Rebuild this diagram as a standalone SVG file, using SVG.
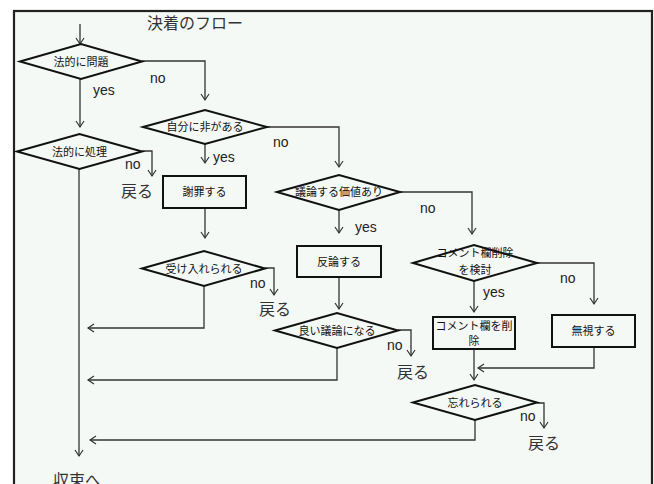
<svg xmlns="http://www.w3.org/2000/svg" width="654" height="484" viewBox="0 0 654 484">
<defs>
<marker id="arr" viewBox="0 0 10 10" refX="7" refY="5" markerWidth="10" markerHeight="10" markerUnits="userSpaceOnUse" orient="auto">
<path d="M1,1 L7,5 L1,9" fill="none" stroke="#333" stroke-width="1.2"/>
</marker>
<style>
.bg{fill:#f4f9f6;stroke:#222;stroke-width:2.2}
.dia{fill:#f4f9f6;stroke:#111;stroke-width:2}
.box{fill:#f4f9f6;stroke:#111;stroke-width:2}
.c{fill:none;stroke:#333;stroke-width:1.3;marker-end:url(#arr)}
.l{font-family:"Noto Sans CJK JP","Liberation Sans",sans-serif;font-size:11px;fill:#111;text-anchor:middle}
.yn{font-family:"Liberation Sans","DejaVu Sans",sans-serif;font-size:14px;fill:#222}
.ret{font-family:"Noto Sans CJK JP",sans-serif;font-size:16px;fill:#333}
.t{font-family:"Noto Sans CJK JP",sans-serif;font-size:16px;fill:#333}
</style>
</defs>
<rect x="0" y="0" width="654" height="484" fill="#ffffff"/>
<rect class="bg" x="14" y="11" width="638" height="490"/>
<text class="t" x="147" y="29">決着のフロー</text>

<g id="connectors">
<path class="c" d="M80,24 V44"/>
<path class="c" d="M142,61 H205 V100"/>
<path class="c" d="M80,79 V127"/>
<path class="c" d="M267,127 H339 V167"/>
<path class="c" d="M205,144 V163"/>
<path class="c" d="M142,151 H152 V176"/>
<path class="c" d="M79,169 V456"/>
<path class="c" d="M205,208 V238"/>
<path class="c" d="M265,268 H274 V295"/>
<path class="c" d="M204,286 V328 H88"/>
<path class="c" d="M339,210 V233"/>
<path class="c" d="M339,277 V309"/>
<path class="c" d="M398,330 H411 V356"/>
<path class="c" d="M337,348 V380 H88"/>
<path class="c" d="M400,192 H472 V234"/>
<path class="c" d="M537,263 H594 V304"/>
<path class="c" d="M474,281 V312"/>
<path class="c" d="M474,349 V380"/>
<path class="c" d="M594,347 V368 H478"/>
<path class="c" d="M537,403 H544 V428"/>
<path class="c" d="M475,420 V440 H90"/>
</g>

<g id="d-hoteki-mondai">
<polygon class="dia" points="20,61.5 81,44 142,61.5 81,79"/>
<text class="l" x="81" y="65.5">法的に問題</text>
</g>
<text class="yn" x="150" y="83">no</text>
<text class="yn" x="93" y="95">yes</text>

<g id="d-jibun">
<polygon class="dia" points="143,127 205,110 267,127 205,144"/>
<text class="l" x="205" y="131">自分に非がある</text>
</g>
<text class="yn" x="273" y="147">no</text>
<text class="yn" x="213" y="162">yes</text>

<g id="d-hoteki-shori">
<polygon class="dia" points="17,151.5 79.5,134 142,151.5 79.5,169"/>
<text class="l" x="79.5" y="155.5">法的に処理</text>
</g>
<text class="yn" x="125" y="169">no</text>
<text class="ret" x="121" y="197">戻る</text>

<g id="b-shazai">
<rect class="box" x="163" y="176" width="83" height="32"/>
<text class="l" x="204.5" y="196">謝罪する</text>
</g>

<g id="d-ukeire">
<polygon class="dia" points="142,268.5 204,251 265,268.5 204,286"/>
<text class="l" x="204" y="272.5">受け入れられる</text>
</g>
<text class="yn" x="250" y="288">no</text>
<text class="ret" x="259" y="315">戻る</text>

<g id="d-giron-kachi">
<polygon class="dia" points="277,192 339,175 400,192 339,210"/>
<text class="l" x="339" y="196">議論する価値あり</text>
</g>
<text class="yn" x="355" y="232">yes</text>
<text class="yn" x="420" y="213">no</text>

<g id="b-hanron">
<rect class="box" x="297" y="246" width="84" height="31"/>
<text class="l" x="339" y="265.5">反論する</text>
</g>

<g id="d-yoi-giron">
<polygon class="dia" points="275,330.5 337,313 398,330.5 337,348"/>
<text class="l" x="337" y="334.5">良い議論になる</text>
</g>
<text class="yn" x="387" y="350">no</text>
<text class="ret" x="397" y="378">戻る</text>

<g id="d-comment-kento">
<polygon class="dia" points="413,263 474,245 537,263 474,281"/>
<text class="l" x="475" y="257">コメント欄削除</text>
<text class="l" x="475" y="274">を検討</text>
</g>
<text class="yn" x="560" y="283">no</text>
<text class="yn" x="483" y="297">yes</text>

<g id="b-comment-sakujo">
<rect class="box" x="433" y="317" width="82" height="32"/>
<text class="l" x="474" y="330">コメント欄を削</text>
<text class="l" x="474" y="345">除</text>
</g>

<g id="b-mushi">
<rect class="box" x="552" y="315" width="83" height="32"/>
<text class="l" x="593.5" y="335">無視する</text>
</g>

<g id="d-wasure">
<polygon class="dia" points="413,402.5 475,385 537,402.5 475,420"/>
<text class="l" x="475" y="406.5">忘れられる</text>
</g>
<text class="yn" x="520" y="421">no</text>
<text class="ret" x="528" y="449">戻る</text>

<text class="t" x="53" y="486">収束へ</text>
</svg>
